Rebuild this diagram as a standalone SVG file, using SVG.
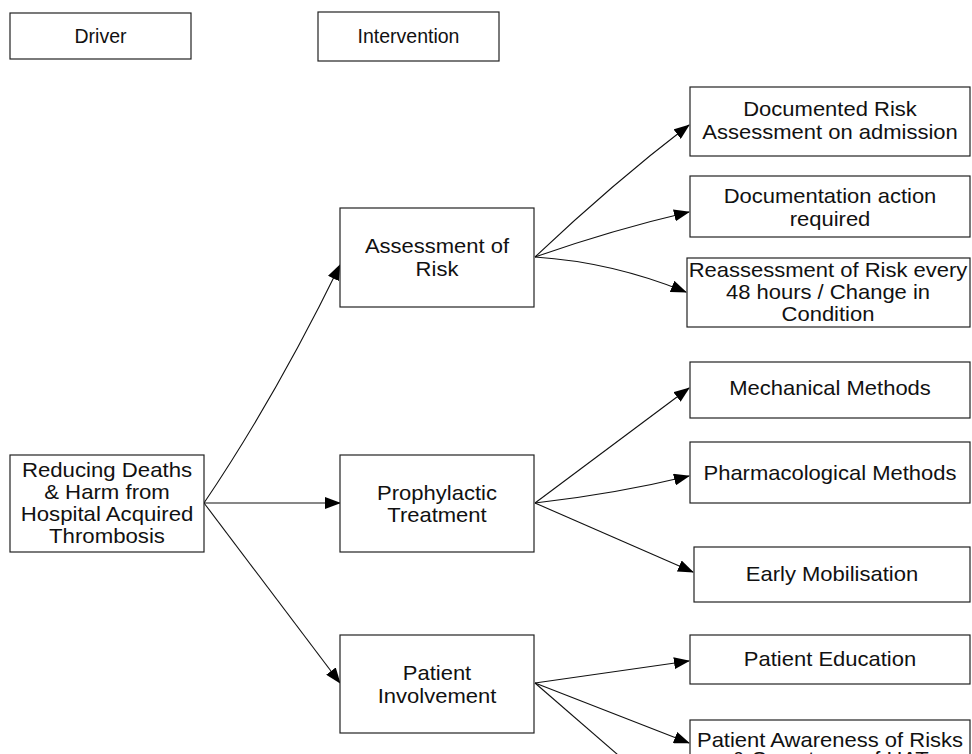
<svg xmlns="http://www.w3.org/2000/svg" width="972" height="754" viewBox="0 0 972 754">
<defs>
<style>
.box{fill:#fff;stroke:#222;stroke-width:1.2}
.t{font-family:"Liberation Sans",Arial,sans-serif;font-size:19.5px;fill:#111;text-anchor:middle;dominant-baseline:central}
.s{font-size:20px}
.c{fill:none;stroke:#111;stroke-width:1.1;marker-end:url(#ah)}
</style>
<marker id="ah" markerUnits="userSpaceOnUse" markerWidth="16" markerHeight="12" refX="15" refY="6" orient="auto" viewBox="0 0 16 12">
<path d="M0,0 L16,6 L0,12 z" fill="#000"/>
</marker>
</defs>
<rect width="972" height="754" fill="#fff"/>
<g id="connectors">
<path class="c" d="M204,503 Q275,398 340,265"/>
<path class="c" d="M204,503 L340,503"/>
<path class="c" d="M204,503 L340,683"/>
<path class="c" d="M535,257 Q612,184 689,125"/>
<path class="c" d="M535,257 Q612,230 689,212"/>
<path class="c" d="M535,257 Q612,262 686,292"/>
<path class="c" d="M535,503 L689,388"/>
<path class="c" d="M535,503 Q615,494 689,476"/>
<path class="c" d="M535,503 L693,572"/>
<path class="c" d="M535,683 L689,661"/>
<path class="c" d="M535,683 L689,743"/>
<path fill="none" stroke="#111" stroke-width="1.1" d="M535,683 L640,774"/>
</g>
<g id="driver"><rect class="box" x="10" y="13" width="181" height="46"/><text class="t" x="100.5" y="36">Driver</text></g>
<g id="intervention"><rect class="box" x="318" y="12" width="181" height="49"/><text class="t" x="408.5" y="36">Intervention</text></g>
<g id="reducing"><rect class="box" x="10" y="455" width="194" height="97"/>
<text class="t s" transform="translate(107,0) scale(1.11,1)" x="0" y="470">Reducing Deaths</text>
<text class="t s" transform="translate(107,0) scale(1.11,1)" x="0" y="492">&amp; Harm from</text>
<text class="t s" transform="translate(107,0) scale(1.11,1)" x="0" y="514">Hospital Acquired</text>
<text class="t s" transform="translate(107,0) scale(1.11,1)" x="0" y="536">Thrombosis</text></g>
<g id="assessment"><rect class="box" x="340" y="208" width="194" height="99"/>
<text class="t s" transform="translate(437,0) scale(1.1,1)" x="0" y="246">Assessment of</text>
<text class="t s" transform="translate(437,0) scale(1.1,1)" x="0" y="269">Risk</text></g>
<g id="prophylactic"><rect class="box" x="340" y="455" width="194" height="97"/>
<text class="t s" transform="translate(437,0) scale(1.1,1)" x="0" y="493">Prophylactic</text>
<text class="t s" transform="translate(437,0) scale(1.1,1)" x="0" y="515">Treatment</text></g>
<g id="involvement"><rect class="box" x="340" y="635" width="194" height="98"/>
<text class="t s" transform="translate(437,0) scale(1.1,1)" x="0" y="673">Patient</text>
<text class="t s" transform="translate(437,0) scale(1.1,1)" x="0" y="696">Involvement</text></g>
<g id="documented"><rect class="box" x="690" y="87" width="280" height="69"/>
<text class="t s" transform="translate(830,0) scale(1.1,1)" x="0" y="109">Documented Risk</text>
<text class="t s" transform="translate(830,0) scale(1.1,1)" x="0" y="132">Assessment on admission</text></g>
<g id="documentation"><rect class="box" x="690" y="176" width="280" height="61"/>
<text class="t s" transform="translate(830,0) scale(1.1,1)" x="0" y="196">Documentation action</text>
<text class="t s" transform="translate(830,0) scale(1.1,1)" x="0" y="219">required</text></g>
<g id="reassessment"><rect class="box" x="687" y="258" width="283" height="69"/>
<text class="t s" transform="translate(828,0) scale(1.1,1)" x="0" y="270">Reassessment of Risk every</text>
<text class="t s" transform="translate(828,0) scale(1.1,1)" x="0" y="292">48 hours / Change in</text>
<text class="t s" transform="translate(828,0) scale(1.1,1)" x="0" y="314">Condition</text></g>
<g id="mechanical"><rect class="box" x="690" y="362" width="280" height="56"/>
<text class="t s" transform="translate(830,0) scale(1.1,1)" x="0" y="388">Mechanical Methods</text></g>
<g id="pharmacological"><rect class="box" x="690" y="442" width="280" height="61"/>
<text class="t s" transform="translate(830,0) scale(1.1,1)" x="0" y="473">Pharmacological Methods</text></g>
<g id="mobilisation"><rect class="box" x="694" y="547" width="276" height="55"/>
<text class="t s" transform="translate(832,0) scale(1.1,1)" x="0" y="574">Early Mobilisation</text></g>
<g id="education"><rect class="box" x="690" y="635" width="280" height="49"/>
<text class="t s" transform="translate(830,0) scale(1.1,1)" x="0" y="659">Patient Education</text></g>
<g id="awareness"><rect class="box" x="690" y="720" width="280" height="60"/>
<text class="t s" transform="translate(830,0) scale(1.1,1)" x="0" y="740">Patient Awareness of Risks</text>
<text class="t s" transform="translate(830,0) scale(1.1,1)" x="0" y="759">&amp; Symptoms of HAT</text></g>
</svg>
